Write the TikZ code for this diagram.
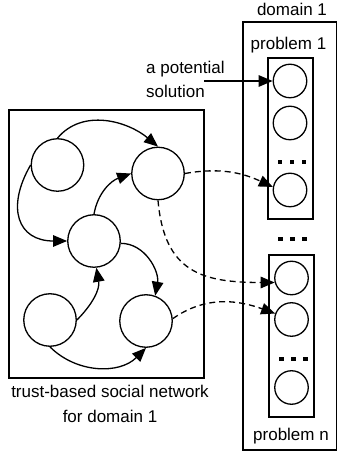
\documentclass[tikz,border=0pt]{standalone}
\usepackage{fontspec}
\setmainfont{Liberation Sans}
\usetikzlibrary{arrows.meta}
\begin{document}
\begin{tikzpicture}[x=1pt,y=1pt,
  lw/.style={line width=1.3pt},
  box/.style={draw, lw, inner sep=0pt, rectangle},
  bignode/.style={circle, draw, lw, minimum size=52.5pt, inner sep=0pt},
  slot/.style={circle, draw, lw, minimum size=33.5pt, inner sep=0pt},
  txt/.style={font=\fontsize{17}{24}\selectfont, inner sep=0pt},
  arr/.style={lw, -{Triangle[length=14pt,width=11.5pt]}},
  darr/.style={arr, dash pattern=on 6pt off 4pt},
]
\fill[white] (0,0) rectangle (338,452);
\useasboundingbox (0,0) rectangle (338,452);

% boxes
\node[box, minimum width=195pt, minimum height=268pt] (net) at (106.5,208) {};
\node[box, minimum width=93.5pt, minimum height=428pt] (dom) at (289.75,216) {};
\node[box, minimum width=45pt, minimum height=161pt] (p1) at (290.5,313.5) {};
\node[box, minimum width=45pt, minimum height=162pt] (pn) at (291.5,116) {};

% labels
\node[txt, anchor=base] (ldom) at (292,436) {domain 1};
\node[txt, anchor=base] (lp1) at (288.5,402) {problem 1};
\node[txt, anchor=base] (lpn) at (291,12) {problem n};
\node[txt, anchor=west, align=left] (lsol) at (146,373) {a potential\\solution};
\node[txt, align=center, font=\fontsize{17}{25}\selectfont] (lnet) at (110,48.5) {trust-based social network\\for domain 1};

% network nodes
\node[bignode] (A) at (57.5,287) {};
\node[bignode] (B) at (158,278.5) {};
\node[bignode] (C) at (94,211) {};
\node[bignode] (D) at (50,132) {};
\node[bignode] (E) at (146,131) {};

% solution slots
\node[slot] (c11) at (290,371) {};
\node[slot] (c12) at (290,329) {};
\node[slot] (c13) at (290,262) {};
\node[slot] (cn1) at (291.5,174) {};
\node[slot] (cn2) at (291.5,132.5) {};
\node[slot] (cn3) at (291.5,64.5) {};

% ellipsis dots
\foreach \cx/\cy in {292/290, 292.5/213, 293.5/93}
  \foreach \dx in {-12,0,12}
    \fill (\cx+\dx-2.25,\cy-2.25) rectangle ++(4.5,4.5);

% trust edges
\draw[arr] (A.north) to[out=50,in=140] (B.north);
\draw[arr] (A.west) to[out=240,in=180,looseness=1.5] (C.west);
\draw[arr] (C.north) to[out=80,in=200] (B.west);
\draw[arr] (C.-5) to[out=0,in=80] (E.70);
\draw[arr] (D.east) to[out=45,in=-80] (C.-85);
\draw[arr] (D.south) to[out=-45,in=-135] (E.south);

% potential solution arrow
\coordinate (ps) at (204,371);
\draw[arr] (ps) -- (c11.west);

% dashed mappings
\draw[darr] (B.east) to[out=10,in=155] (c13.170);
\draw[darr] (B.south) to[out=-85,in=180,looseness=1.3] (cn1.195);
\draw[darr] (E.5) to[out=35,in=160] (cn2.160);
\end{tikzpicture}
\end{document}
